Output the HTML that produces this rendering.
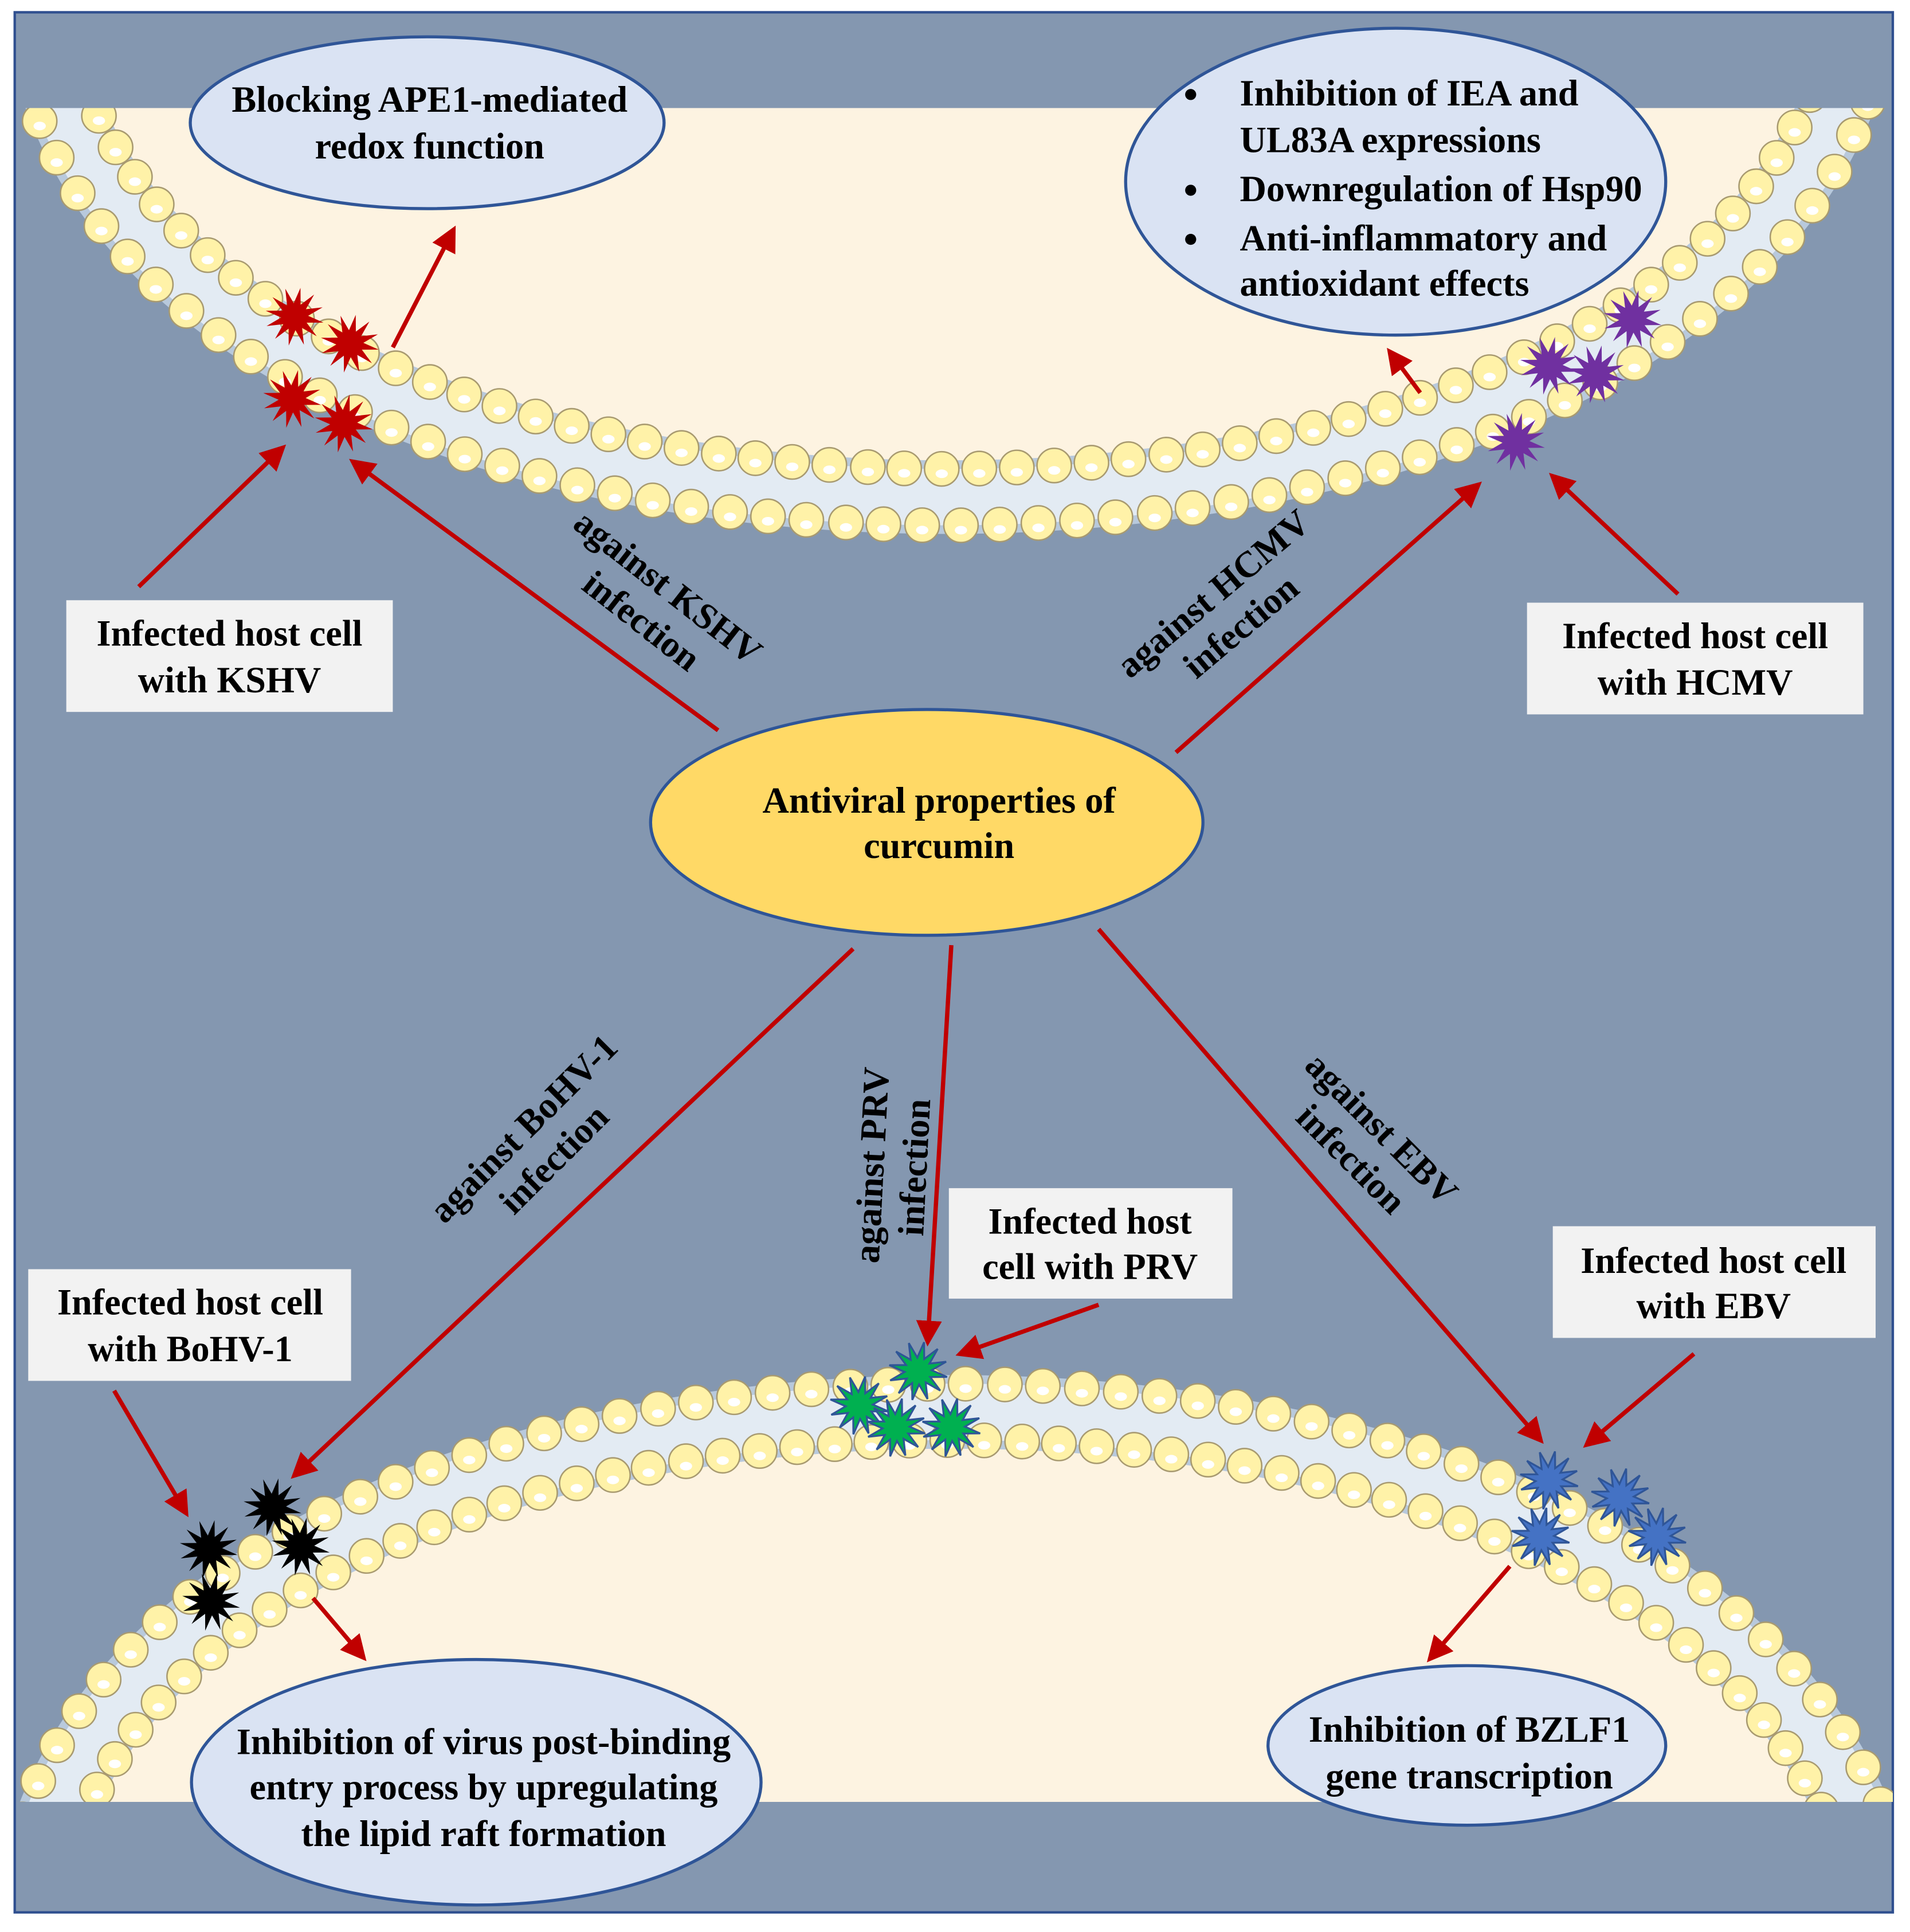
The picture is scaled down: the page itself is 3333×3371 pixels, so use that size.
<!DOCTYPE html>
<html><head><meta charset="utf-8"><style>
html,body{margin:0;padding:0;background:#fff;}
svg{display:block;}
text{font-family:"Liberation Serif","Times New Roman",serif;font-weight:bold;fill:#000;}
</style></head><body>
<svg id="s" width="3333" height="3371" viewBox="0 0 1556 1574" preserveAspectRatio="none" xmlns="http://www.w3.org/2000/svg">
<defs>
<marker id="ah" markerWidth="6" markerHeight="6" refX="4" refY="3" orient="auto" markerUnits="strokeWidth">
<path d="M0,0 L6,3 L0,6 Z" fill="#c00000"/></marker>
<clipPath id="cp"><rect x="12" y="88" width="1530" height="1380"/></clipPath>
</defs>
<rect x="12" y="10" width="1530" height="1548" fill="#8497b0" stroke="#2f4f8f" stroke-width="2"/>
<g clip-path="url(#cp)">
<path d="M48 75 C200 515 1340 515 1500 75 Z" fill="#fdf3e1"/>
<path d="M40 1490 C200 1037 1350 1037 1515 1490 Z" fill="#fdf3e1"/>
<g id="mem"></g>
</g>
<g id="stars"></g>
<g stroke="#c00000" stroke-width="3.5" marker-end="url(#ah)" fill="none">
<line x1="320" y1="283" x2="368" y2="190"/>
<line x1="113" y1="478" x2="228" y2="367"/>
<line x1="585" y1="595" x2="290" y2="378"/>
<line x1="958" y1="613" x2="1202" y2="397"/>
<line x1="1367" y1="484" x2="1267" y2="390"/>
<line x1="1157" y1="320" x2="1134" y2="289"/>
<line x1="695" y1="773" x2="242" y2="1200"/>
<line x1="775" y1="770" x2="756" y2="1090"/>
<line x1="895" y1="1063" x2="785" y2="1102"/>
<line x1="895" y1="757" x2="1253" y2="1171"/>
<line x1="1380" y1="1103" x2="1295" y2="1175"/>
<line x1="93" y1="1133" x2="150" y2="1230"/>
<line x1="255" y1="1302" x2="294" y2="1348"/>
<line x1="1230" y1="1276" x2="1167" y2="1349"/>
</g>
<g stroke="#2f5597" stroke-width="2.5" fill="#dae3f3">
<ellipse cx="348" cy="100" rx="193" ry="70"/>
<ellipse cx="1137" cy="148" rx="220" ry="125"/>
<ellipse cx="755" cy="670" rx="225" ry="92" fill="#ffd966"/>
<ellipse cx="388" cy="1452" rx="232" ry="100"/>
<ellipse cx="1195" cy="1422" rx="162" ry="65"/>
</g>
<g fill="#f2f2f2">
<rect x="54" y="489" width="266" height="91"/>
<rect x="1244" y="491" width="274" height="91"/>
<rect x="773" y="968" width="231" height="90"/>
<rect x="1265" y="999" width="263" height="91"/>
<rect x="23" y="1034" width="263" height="91"/>
</g>
<g font-size="30" text-anchor="middle">
<text x="350" y="91">Blocking APE1-mediated</text>
<text x="350" y="129">redox function</text>
<text x="765" y="662">Antiviral properties of</text>
<text x="765" y="699">curcumin</text>
<text x="394" y="1429">Inhibition of virus post-binding</text>
<text x="394" y="1466">entry process by upregulating</text>
<text x="394" y="1504">the lipid raft formation</text>
<text x="1197" y="1419">Inhibition of BZLF1</text>
<text x="1197" y="1457">gene transcription</text>
<text x="187" y="526">Infected host cell</text>
<text x="187" y="564">with KSHV</text>
<text x="1381" y="528">Infected host cell</text>
<text x="1381" y="566">with HCMV</text>
<text x="888" y="1005">Infected host</text>
<text x="888" y="1042">cell with PRV</text>
<text x="1396" y="1037">Infected host cell</text>
<text x="1396" y="1074">with EBV</text>
<text x="155" y="1071">Infected host cell</text>
<text x="155" y="1109">with BoHV-1</text>
</g>
<g font-size="30">
<text x="1010" y="86">Inhibition of IEA and</text>
<text x="1010" y="124">UL83A expressions</text>
<text x="1010" y="164">Downregulation of Hsp90</text>
<text x="1010" y="204">Anti-inflammatory and</text>
<text x="1010" y="241">antioxidant effects</text>
<circle cx="970" cy="77" r="4.5"/><circle cx="970" cy="155" r="4.5"/><circle cx="970" cy="195" r="4.5"/>
</g>
<g font-size="30" text-anchor="middle">
<g transform="translate(535,490) rotate(38)"><text x="0" y="-5">against KSHV</text><text x="0" y="30">infection</text></g>
<g transform="translate(998,495) rotate(-40)"><text x="0" y="-5">against HCMV</text><text x="0" y="30">infection</text></g>
<g transform="translate(437,930) rotate(-45)"><text x="0" y="-5">against BoHV-1</text><text x="0" y="30">infection</text></g>
<g transform="translate(725,950) rotate(-87)"><text x="0" y="-5">against PRV</text><text x="0" y="30">infection</text></g>
<g transform="translate(1115,930) rotate(45)"><text x="0" y="-5">against EBV</text><text x="0" y="30">infection</text></g>
</g>
</svg>
<script>
var NS="http://www.w3.org/2000/svg";
var mem=document.getElementById("mem");
function bez(p,t){var u=1-t;return [u*u*u*p[0]+3*u*u*t*p[2]+3*u*t*t*p[4]+t*t*t*p[6],u*u*u*p[1]+3*u*u*t*p[3]+3*u*t*t*p[5]+t*t*t*p[7]];}
function el(n,a,par){var e=document.createElementNS(NS,n);for(var k in a)e.setAttribute(k,a[k]);(par||mem).appendChild(e);return e;}
function membrane(p){
 var d="M"+p[0]+" "+p[1]+" C"+p[2]+" "+p[3]+" "+p[4]+" "+p[5]+" "+p[6]+" "+p[7];
 el("path",{d:d,stroke:"#b8c9dc",'stroke-width':60,fill:"none"});
 el("path",{d:d,stroke:"#e3ebf3",'stroke-width':46,fill:"none"});
 var pts=[],N=2000,L=0,prev=bez(p,0);pts.push([0,0]);
 for(var i=1;i<=N;i++){var q=bez(p,i/N);L+=Math.hypot(q[0]-prev[0],q[1]-prev[1]);pts.push([i/N,L]);prev=q;}
 var step=31,n=Math.floor(L/step);
 for(var side=-1;side<=1;side+=2){
  for(var k=0;k<=n;k++){
   var s=k*step+(side>0?step/2:0);var j=0;while(j<N&&pts[j][1]<s)j++;var t=pts[j][0];
   var a=bez(p,Math.max(0,t-0.001)),b=bez(p,Math.min(1,t+0.001));var dx=b[0]-a[0],dy=b[1]-a[1],m=Math.hypot(dx,dy);
   var nx=-dy/m,ny=dx/m,c=bez(p,t);var x=c[0]+nx*23*side,y=c[1]+ny*23*side;
   el("circle",{cx:x,cy:y,r:14,fill:"#fff2a8",stroke:"#a89a70",'stroke-width':1.2});
   el("ellipse",{cx:x,cy:y+4,rx:5,ry:3.5,fill:"#fff"});
  }
 }
}
membrane([48,75,200,515,1340,515,1500,75]);
membrane([40,1490,200,1037,1350,1037,1515,1490]);
var sg=document.getElementById("stars");
function star(cx,cy,col,stroke){var pts=[];for(var i=0;i<24;i++){var r=i%2?11:24;var a=i*Math.PI/12+0.2;pts.push((cx+r*Math.cos(a)).toFixed(1)+","+(cy+r*Math.sin(a)).toFixed(1));}
 el("polygon",{points:pts.join(" "),fill:col,stroke:stroke||"none",'stroke-width':1.5},sg);}
[[240,258],[285,280],[238,325],[280,345]].forEach(function(c){star(c[0],c[1],"#c00000");});
[[1330,260],[1262,298],[1300,305],[1235,360]].forEach(function(c){star(c[0],c[1],"#7030a0");});
[[748,1117],[700,1145],[730,1163],[775,1163]].forEach(function(c){star(c[0],c[1],"#00b050","#2f5597");});
[[222,1228],[170,1262],[245,1260],[172,1305]].forEach(function(c){star(c[0],c[1],"#000");});
[[1262,1206],[1320,1220],[1255,1252],[1350,1252]].forEach(function(c){star(c[0],c[1],"#4472c4","#2f5597");});
</script>
</body></html>
